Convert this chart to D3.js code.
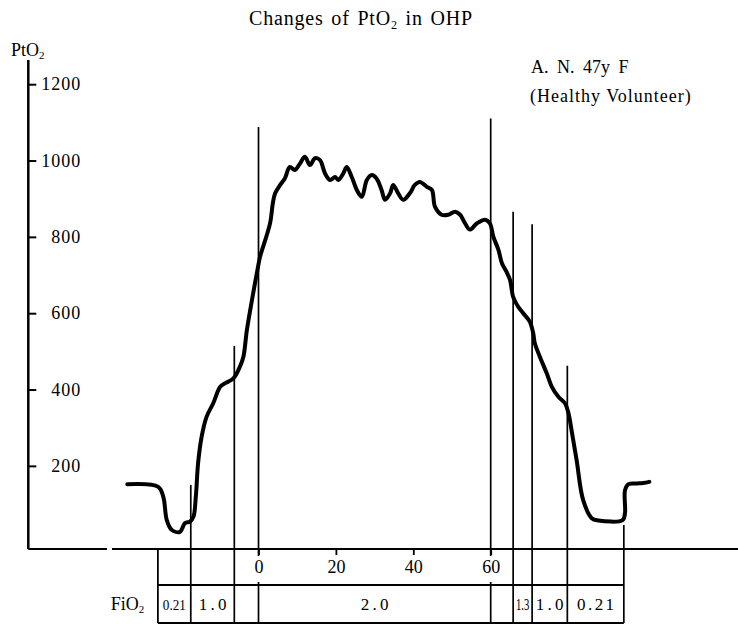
<!DOCTYPE html>
<html>
<head>
<meta charset="utf-8">
<script src="https://cdn.jsdelivr.net/npm/d3@7"></script>
<style>
  body { margin: 0; background: #fff; }
  svg { display: block; font-family: "Liberation Serif", "DejaVu Serif", serif; }
</style>
</head>
<body>
<div id="chart"></div>
<script>
// PtO2 trace, minutes from the start of FiO2 2.0
const minutes = [-33.9, -25.9, -24.6, -23.7, -22.4, -20.3, -19.0, -17.7, -16.8, -16.2,
  -15.6, -14.7, -13.4, -11.7, -9.9, -8.7, -6.5, -4.8, -3.9, -3.0,
  -1.7, 0.1, 0.4, 3.0, 3.7, 4.3, 5.6, 6.8, 8.1, 9.4,
  10.7, 12.0, 13.3, 14.6, 15.9, 17.2, 18.5, 19.8, 20.6, 21.9,
  22.8, 24.1, 25.4, 26.7, 28.0, 29.3, 30.5, 31.8, 32.7, 34.0,
  34.8, 36.1, 37.4, 39.1, 40.4, 41.7, 43.5, 44.8, 45.6, 47.3,
  49.0, 50.8, 52.1, 53.4, 54.6, 56.4, 58.5, 59.8, 60.7, 62.0,
  62.9, 64.1, 65.0, 65.8, 67.1, 68.4, 70.1, 71.0, 71.4, 72.7,
  74.5, 75.8, 77.5, 79.2, 80.1, 80.9, 82.2, 83.9, 86.1, 87.8,
  94.1, 94.7, 94.7, 95.6, 97.7, 99.4, 101.0];
const pto2 = [152, 145, 119, 58, 32, 27, 50, 54, 67, 119,
  208, 276, 329, 364, 407, 416, 429, 460, 486, 556,
  634, 734, 748, 836, 888, 914, 936, 953, 983, 975,
  992, 1010, 988, 1006, 1001, 966, 949, 957, 949, 966,
  983, 957, 923, 905, 949, 962, 953, 923, 897, 914,
  936, 914, 897, 914, 936, 944, 931, 923, 879, 858,
  858, 866, 858, 835, 819, 835, 845, 835, 800, 766,
  731, 708, 687, 643, 617, 600, 578, 547, 521, 486,
  442, 407, 381, 364, 338, 293, 215, 110, 63, 57,
  58, 76, 136, 152, 154, 155, 158];

const yTicks = [200, 400, 600, 800, 1000, 1200];
const xTicks = [0, 20, 40, 60];

// FiO2 change marks (minutes) and the PtO2 level each line reaches
const marks = [-17.5, -6.25, 0, 60, 65.8, 70.7, 79.8, 94.4];
const markTops = [150, 514, 1088, 1110, 866, 833, 462, 45];

const fio2Edges = [-26, -17.5, -6.25, 0, 60, 65.8, 70.7, 79.8, 94.4];
const fio2Labels = ["0.21", "1.0", "", "2.0", "", "1.3", "1.0", "0.21"];

const width = 738, height = 626;
const axisY = 549, yAxisX = 28.3, rowMid = 585, rowBottom = 623;

const svg = d3.select("#chart").append("svg")
  .attr("width", width)
  .attr("height", height);

const x = d3.scaleLinear().domain([0, 60]).range([258.5, 490.7]);
const y = d3.scaleLinear().domain([0, 1200]).range([542.2, 84.2]);

// title and notes
const title = svg.append("text")
  .attr("x", 361).attr("y", 25)
  .attr("text-anchor", "middle")
  .style("font-size", "20px")
  .style("letter-spacing", "0.8px")
  .style("word-spacing", "2px");
title.append("tspan").text("Changes of PtO");
title.append("tspan").attr("dy", 4).style("font-size", "12px").text("2");
title.append("tspan").attr("dy", -4).text(" in OHP");

const yLabel = svg.append("text").attr("x", 11).attr("y", 56).style("font-size", "18px");
yLabel.append("tspan").text("PtO");
yLabel.append("tspan").attr("dy", 3).style("font-size", "11px").text("2");

svg.append("text")
  .attr("x", 531).attr("y", 73)
  .style("font-size", "18px")
  .style("word-spacing", "4px")
  .text("A. N. 47y F");
svg.append("text")
  .attr("x", 530).attr("y", 102)
  .style("font-size", "18px")
  .style("letter-spacing", "1px")
  .text("(Healthy Volunteer)");

// y axis
svg.append("line")
  .attr("x1", yAxisX).attr("x2", yAxisX)
  .attr("y1", 60).attr("y2", axisY)
  .attr("stroke", "#000").attr("stroke-width", 2.5);

const gy = svg.append("g")
  .attr("transform", `translate(${yAxisX},0)`)
  .call(d3.axisRight(y).tickValues(yTicks).tickSize(8).tickFormat(d3.format("d")));
gy.select(".domain").remove();
gy.selectAll(".tick line").attr("stroke", "#000").attr("stroke-width", 2);
gy.selectAll(".tick text")
  .attr("x", 53)
  .attr("text-anchor", "end")
  .attr("fill", "#000")
  .style("font-size", "18px")
  .style("letter-spacing", "1px")
  .style("font-family", "Liberation Serif, serif");

// x axis, broken just left of the trace
svg.append("line")
  .attr("x1", yAxisX).attr("x2", 107)
  .attr("y1", axisY).attr("y2", axisY)
  .attr("stroke", "#000").attr("stroke-width", 2);
svg.append("line")
  .attr("x1", 112).attr("x2", width)
  .attr("y1", axisY).attr("y2", axisY)
  .attr("stroke", "#000").attr("stroke-width", 2);

const gx = svg.append("g")
  .attr("transform", `translate(0,${axisY})`)
  .call(d3.axisBottom(x).tickValues(xTicks).tickSize(6));
gx.select(".domain").remove();
gx.selectAll(".tick line").attr("stroke", "#000").attr("stroke-width", 1.8);
gx.selectAll(".tick text")
  .attr("y", 24).attr("dy", 0)
  .attr("fill", "#000")
  .style("font-size", "18px")
  .style("font-family", "Liberation Serif, serif");

// FiO2 change lines; lines on a labelled tick leave room for the label
marks.forEach((m, i) => {
  const onTick = xTicks.includes(m);
  const segs = onTick
    ? [[y(markTops[i]), axisY + 7], [rowMid - 3, rowBottom]]
    : [[y(markTops[i]), rowBottom]];
  segs.forEach(s => {
    svg.append("line")
      .attr("x1", x(m)).attr("x2", x(m))
      .attr("y1", s[0]).attr("y2", s[1])
      .attr("stroke", "#000").attr("stroke-width", 1.7);
  });
});

// FiO2 table
const x0 = x(fio2Edges[0]), x1 = x(fio2Edges[fio2Edges.length - 1]);
svg.append("line")
  .attr("x1", x0).attr("x2", x0).attr("y1", axisY).attr("y2", rowBottom)
  .attr("stroke", "#000").attr("stroke-width", 1.8);
[rowMid, rowBottom].forEach(yy => {
  svg.append("line")
    .attr("x1", x0).attr("x2", x1).attr("y1", yy).attr("y2", yy)
    .attr("stroke", "#000").attr("stroke-width", 1.8);
});

const fio2Title = svg.append("text").attr("x", 110.7).attr("y", 610).style("font-size", "18px");
fio2Title.append("tspan").text("FiO");
fio2Title.append("tspan").attr("dy", 3).style("font-size", "11px").text("2");

fio2Labels.forEach((lab, i) => {
  if (!lab) return;
  const a = x(fio2Edges[i]), b = x(fio2Edges[i + 1]);
  const w = b - a;
  const squeeze = lab.length * 8.5 > w - 8;
  svg.append("text")
    .attr("x", (a + b) / 2).attr("y", 610)
    .attr("text-anchor", "middle")
    .style("font-size", squeeze && lab.length > 3 ? "14px" : "17px")
    .attr("textLength", squeeze ? w * 0.7 : lab.length * 9.25)
    .attr("lengthAdjust", squeeze ? "spacingAndGlyphs" : "spacing")
    .text(lab);
});

// PtO2 trace
const line = d3.line()
  .x((d, i) => x(minutes[i]))
  .y(d => y(d))
  .curve(d3.curveCatmullRom.alpha(0.5));

svg.append("path")
  .attr("d", line(pto2))
  .attr("fill", "none")
  .attr("stroke", "#000")
  .attr("stroke-width", 4)
  .attr("stroke-linejoin", "round")
  .attr("stroke-linecap", "round");
</script>
</body>
</html>
